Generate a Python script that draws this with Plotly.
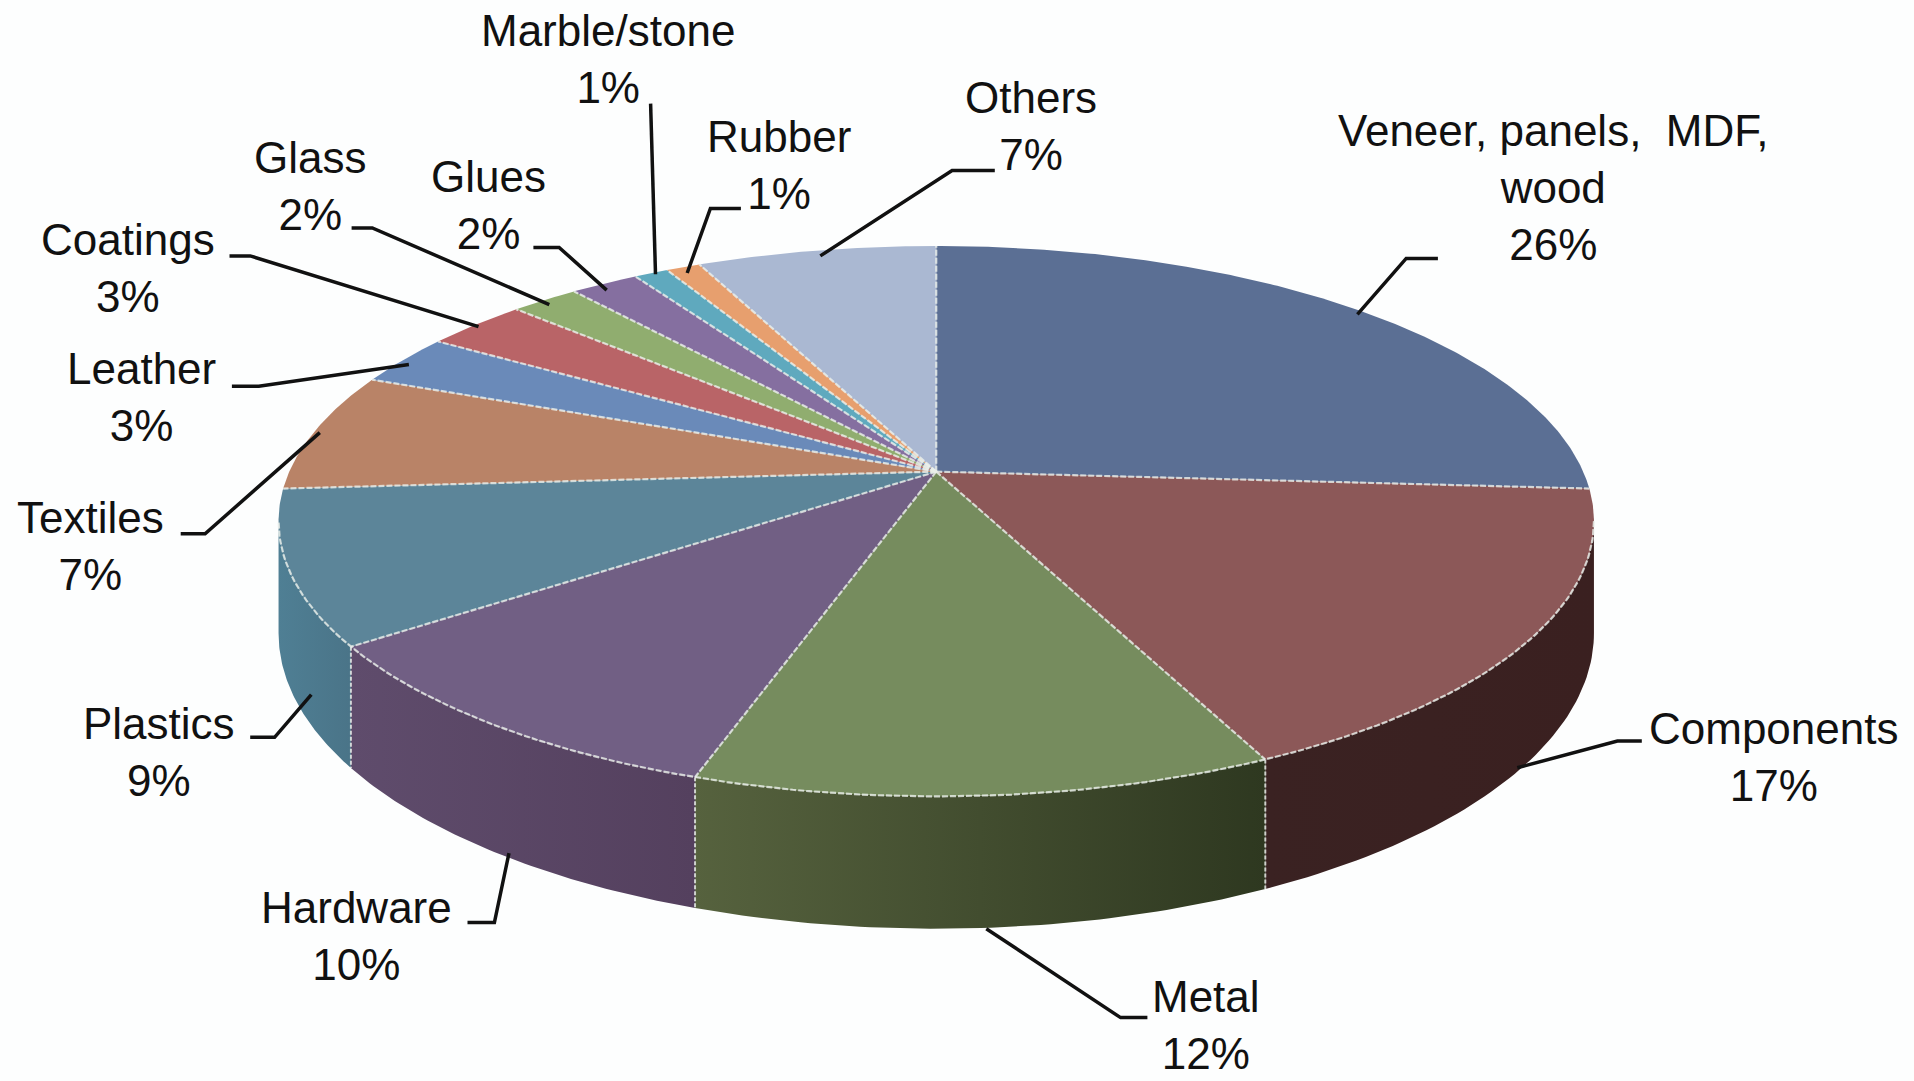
import numpy as np
import plotly.graph_objects as go

# ---- data ----
categories = ["Veneer, panels,  MDF,<br>wood", "Components", "Metal", "Hardware", "Plastics", "Textiles",
              "Leather", "Coatings", "Glass", "Glues", "Marble/stone", "Rubber", "Others"]
shares = [26, 17, 12, 10, 9, 7, 3, 3, 2, 2, 1, 1, 7]
top_colors = ["#5b6f94", "#8c5858", "#768c5e", "#715f84", "#5c8599", "#b98367", "#6a8ab9",
              "#b96467", "#90ad6f", "#856fa0", "#5fa9be", "#e79f6e", "#aab8d2"]
wall_left = ["#2a2030", "#3a2222", "#56623e", "#5f4c6c", "#4f7f94", "#000000", "#000000",
             "#000000", "#000000", "#000000", "#000000", "#000000", "#000000"]
wall_right = ["#2a2030", "#3a2020", "#2e3820", "#54405e", "#4a7488", "#000000", "#000000",
              "#000000", "#000000", "#000000", "#000000", "#000000", "#000000"]

# ---- layout of the picture ----
W, H = 1914, 1081
SX, SY = W / 1568, H / 887            # sketch units -> page pixels
CX, CY = 767 * SX, 387 * SY           # wedge apex
A, B, K = 530 * SX, 218.5 * SY, 0.18  # projected disc
DEPTH = 89 * SY                       # thickness
TANGENT = np.degrees(np.arccos(-K))   # silhouette of the cylinder


def project(deg, depth=0.0):
    t = np.radians(np.asarray(deg, dtype=float))
    x, y = np.sin(t), -np.cos(t)
    w = 1 - K * y
    return CX + A * x / w, CY + (B * y + depth) / w


label_pos = [(1272, 154), (1453, 621), (988, 841), (292, 768), (130, 617), (74, 448), (116, 326),
             (105, 220), (254, 153), (400, 168), (498, 48), (638, 135), (845, 103)]
leaders = [
    [(1178, 212), (1152, 212), (1112, 258)],
    [(1345, 608), (1325, 608), (1243, 630)],
    [(808, 762), (918, 835), (940, 835)],
    [(383, 757), (405, 757), (417, 700)],
    [(205, 605), (225, 605), (255, 570)],
    [(148, 438), (168, 438), (262, 355)],
    [(190, 317), (212, 317), (335, 299)],
    [(188, 210), (205, 210), (392, 268)],
    [(288, 187), (305, 187), (450, 250)],
    [(437, 203), (458, 203), (497, 238)],
    [(533, 85), (537, 225)],
    [(607, 171), (582, 171), (563, 224)],
    [(815, 140), (780, 140), (672, 210)],
]

edges = np.concatenate([[0], np.cumsum(shares)]) / sum(shares) * 360
fig = go.Figure()
EDGE = "rgba(235,240,235,0.8)"

# side walls
for i, name in enumerate(categories):
    lo, hi = max(edges[i], TANGENT), min(edges[i + 1], 360 - TANGENT)
    if hi <= lo:
        continue
    ts = np.linspace(lo, hi, 60)
    xt, yt = project(ts)
    xb, yb = project(ts[::-1], DEPTH)
    fig.add_trace(go.Scatter(
        x=np.concatenate([xt, xb]), y=np.concatenate([yt, yb]), mode="lines", fill="toself",
        line=dict(width=0), fillgradient=dict(type="horizontal",
                                              colorscale=[[0, wall_left[i]], [1, wall_right[i]]]),
        hoverinfo="skip", showlegend=False))
    if lo == edges[i] and lo > TANGENT:
        xv, yv = project([lo])
        _, yv2 = project([lo], DEPTH)
        fig.add_trace(go.Scatter(x=[xv[0], xv[0]], y=[yv[0], yv2[0]], mode="lines",
                                 line=dict(color=EDGE, width=2, dash="4px,2px"),
                                 hoverinfo="skip", showlegend=False))

# top surface
for i, name in enumerate(categories):
    ts = np.linspace(edges[i], edges[i + 1], max(8, int(shares[i] * 8)))
    xt, yt = project(ts)
    fig.add_trace(go.Scatter(
        x=np.concatenate([[CX], xt, [CX]]), y=np.concatenate([[CY], yt, [CY]]),
        mode="lines", fill="toself", fillcolor=top_colors[i],
        line=dict(width=0), name=name.replace("<br>", " "),
        text=f"{shares[i]}%", hoverinfo="name+text", showlegend=False))

# slice borders and the front rim
for e in edges[:-1]:
    px, py = project([e])
    fig.add_trace(go.Scatter(x=[CX, px[0]], y=[CY, py[0]], mode="lines",
                             line=dict(color=EDGE, width=2.2, dash="6px,2px"),
                             hoverinfo="skip", showlegend=False))
rim = np.linspace(TANGENT, 360 - TANGENT, 160)
rx, ry = project(rim)
fig.add_trace(go.Scatter(x=rx, y=ry, mode="lines", line=dict(color=EDGE, width=2.2, dash="6px,2px"),
                         hoverinfo="skip", showlegend=False))

shapes = []
for pts in leaders:
    path = "M " + " L ".join(f"{x * SX:.1f},{y * SY:.1f}" for x, y in pts)
    shapes.append(dict(type="path", path=path, xref="x", yref="y",
                       line=dict(color="#111111", width=3.5)))

annotations = []
for name, s, (lx, ly) in zip(categories, shares, label_pos):
    annotations.append(dict(x=lx * SX, y=ly * SY, xref="x", yref="y", text=f"{name}<br>{s}%",
                            showarrow=False, xanchor="center", yanchor="middle", align="center",
                            font=dict(family="Liberation Sans", size=44, color="#111111")))

fig.update_layout(
    width=W, height=H, margin=dict(l=0, r=0, t=0, b=0),
    paper_bgcolor="#fdfefe", plot_bgcolor="#fdfefe", showlegend=False,
    xaxis=dict(range=[0, W], visible=False, fixedrange=True),
    yaxis=dict(range=[H, 0], visible=False, fixedrange=True),
    shapes=shapes, annotations=annotations)

fig.write_html("out.html", config=dict(displayModeBar=False),
               post_script="document.body.style.margin='0';document.body.style.overflow='hidden';")
